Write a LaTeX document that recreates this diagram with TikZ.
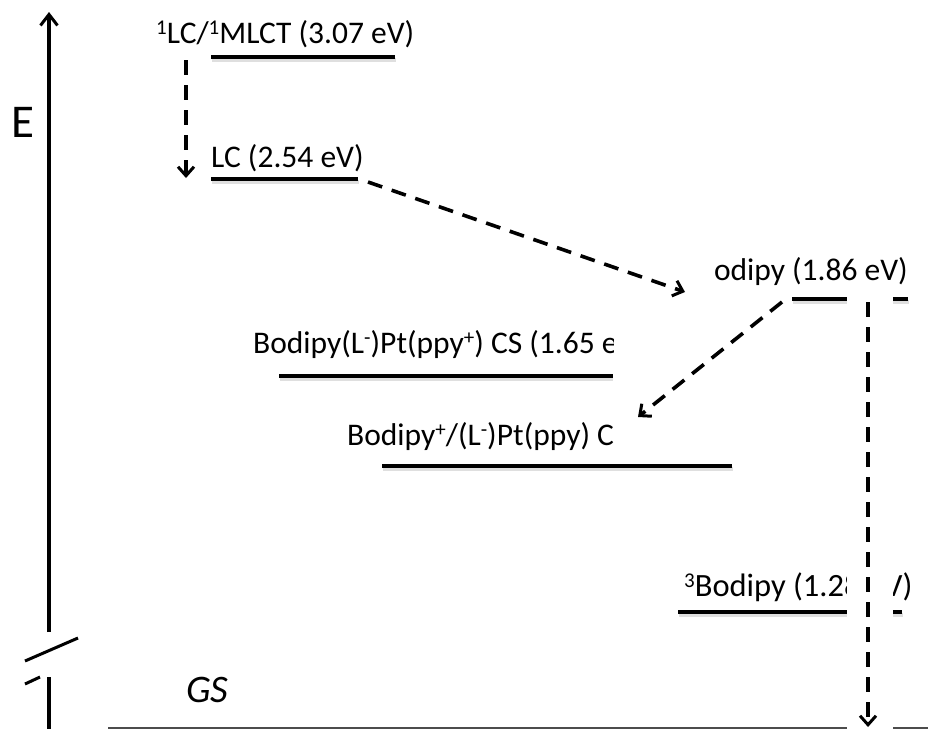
\documentclass[tikz,border=0pt]{standalone}
\usepackage{fontspec}
\setmainfont{Carlito}
\usetikzlibrary{arrows.meta}
\newcommand\sups[1]{\raisebox{0.27em}{\fontsize{21}{21}\selectfont #1}}
\begin{document}
\begin{tikzpicture}[x=1pt,y=-1pt,
  lbl/.style={inner sep=0pt, font=\fontsize{31.5}{37}\selectfont},
  lvl/.style={line width=3.4pt, line cap=butt},
  shadowline/.style={line width=3.4pt, gray!25, line cap=butt},
  dasharrow/.style={line width=3.6pt, dash pattern=on 15pt off 10pt,
     -{Straight Barb[length=9pt,width=16pt,line width=3pt]}},
  axis/.style={line width=3.2pt}]
\useasboundingbox (0,0) rectangle (928,729);

% energy axis
\coordinate (ax0) at (49,632);
\coordinate (ax1) at (49,12);
\coordinate (ax2) at (49,677);
\coordinate (ax3) at (49,729);
\coordinate (sl0) at (25,661);
\coordinate (sl1) at (78,638);
\coordinate (sl2) at (25,684);
\coordinate (sl3) at (40,677);
\draw[axis, -{Straight Barb[length=11pt,width=17pt,line width=3pt]}] (ax0) -- (ax1);
\draw[axis] (ax2) -- (ax3);
\draw[line width=3pt] (sl0) -- (sl1);
\draw[line width=3pt] (sl2) -- (sl3);
\node[lbl, anchor=base west, font=\fontsize{47}{50}\selectfont] (E) at (11,137) {E};

% labels
\node[lbl, anchor=base west] (t307) at (156,43) {\sups{1}LC/\sups{1}MLCT (3.07 eV)};
\node[lbl, anchor=base west] (t254) at (211,167) {LC (2.54 eV)};
\node[lbl, anchor=base east] (t186) at (908,280) {odipy (1.86 eV)};
\node[lbl, anchor=base west, font=\fontsize{32.5}{37}\selectfont] (t128) at (684,596) {\sups{3}Bodipy (1.28 eV)};
\node[lbl, anchor=base west, font=\fontsize{39}{44}\selectfont\itshape] (tGS) at (186,702) {GS};

% level coordinates
\coordinate (p307a) at (211,57);  \coordinate (p307b) at (395,57);
\coordinate (p254a) at (211,179); \coordinate (p254b) at (358,179);
\coordinate (p186a) at (792,299); \coordinate (p186b) at (908,299);
\coordinate (p165a) at (279,376); \coordinate (p165b) at (613,376);
\coordinate (pcsa) at (382,466);  \coordinate (pcsb) at (732,466);
\coordinate (p128a) at (678,612); \coordinate (p128b) at (902,612);
\coordinate (pGSa) at (108,728);  \coordinate (pGSb) at (928,728);

% shadows
\foreach \a/\b in {p307a/p307b,p254a/p254b,p186a/p186b,pcsa/pcsb,p128a/p128b}
  \draw[shadowline] ([shift={(1,3)}]\a) -- ([shift={(1,3)}]\b);
\draw[shadowline] ([shift={(1,3)}]p165a) -- ([shift={(0,3)}]p165b);

% levels
\draw[lvl] (p307a) -- (p307b);
\draw[lvl] (p254a) -- (p254b);
\draw[lvl] (p186a) -- (p186b);
\draw[lvl] (pcsa) -- (pcsb);
\draw[lvl] (p128a) -- (p128b);
\draw[line width=2pt, black!70] (pGSa) -- (pGSb);

% clipped labels at the cut
\begin{scope}
  \clip (0,0) rectangle (613,729);
  \node[lbl, anchor=base west] (t165) at (253,353) {Bodipy(L\sups{-})Pt(ppy\sups{+}) CS (1.65 e};
  \node[lbl, anchor=base west] (tcs) at (347,445) {Bodipy\sups{+}/(L\sups{-})Pt(ppy) C};
  \draw[lvl] (p165a) -- (p165b);
\end{scope}

% white strip
\fill[white] (847,289) rectangle (893,729);

% transfer arrows
\coordinate (a1s) at (186,60);  \coordinate (a1e) at (186,178);
\coordinate (a2s) at (368,182); \coordinate (a2e) at (685,292);
\coordinate (a3s) at (782,302); \coordinate (a3e) at (638,417);
\coordinate (a4s) at (868,302); \coordinate (a4e) at (868,727);
\draw[dasharrow] (a1s) -- (a1e);
\draw[dasharrow] (a2s) -- (a2e);
\draw[dasharrow] (a3s) -- (a3e);
\draw[dasharrow] (a4s) -- (a4e);
\end{tikzpicture}
\end{document}
